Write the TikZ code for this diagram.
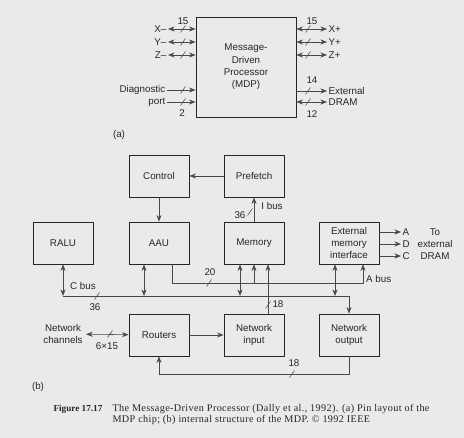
\documentclass[tikz,border=0pt]{standalone}
\usepackage{fontspec}
\setmainfont{Liberation Sans}
\newfontfamily\capfont[LetterSpace=3.5]{Liberation Serif}
\newfontfamily\capnumfont{Liberation Serif}
\usepackage{tikz}
\usetikzlibrary{arrows.meta,positioning,calc}

\definecolor{paper}{RGB}{234,234,236}
\definecolor{ink}{RGB}{38,38,40}
\definecolor{wireink}{RGB}{70,72,74}

% small slash that marks the width of a bus
\newcommand{\busmark}[1]{\draw[wire] ($#1+(-2.5,3.5)$) -- ($#1+(2.5,-3.5)$);}

\begin{document}
\begin{tikzpicture}[
    x=1pt, y=-1pt,
    every node/.style={font=\fontsize{9.8}{12.3}\selectfont, text=ink},
    chip/.style={draw=ink, line width=0.9pt, minimum width=100pt,
                 minimum height=100pt, align=center},
    block/.style={draw=ink, line width=0.9pt, minimum width=60pt,
                  minimum height=42pt, align=center},
    wire/.style={draw=wireink, line width=0.55pt},
    sig/.style={wire, -{Stealth[length=6.5pt,width=5pt]}},
    dsig/.style={wire, {Stealth[length=6.5pt,width=5pt]}-{Stealth[length=6.5pt,width=5pt]}},
    pinlabel/.style={inner sep=1.5pt},
    buslabel/.style={inner sep=1pt},
    captext/.style={anchor=base west, font=\capfont\fontsize{10.2}{11}\selectfont},
]
\useasboundingbox (0,0) rectangle (464,438);
\fill[paper] (0,0) rectangle (464,438);

% -------- (a): pin layout of the chip --------
\node[chip] (mdp) at (246,67) {Message-\\Driven\\Processor\\(MDP)};

% network ports
\foreach \nm/\lbl/\y in {xm/X--/29, ym/Y--/42, zm/Z--/55}{
  \node[pinlabel, anchor=east] (\nm) at (168,\y) {\lbl};
  \draw[dsig] (\nm) -- (mdp.west |- \nm);
  \busmark{(183,\y)}
}
\foreach \nm/\lbl/\y in {xp/X+/29, yp/Y+/42, zp/Z+/55}{
  \node[pinlabel, anchor=west] (\nm) at (327,\y) {\lbl};
  \draw[dsig] (mdp.east |- \nm) -- (\nm);
  \busmark{(308,\y)}
}
\node[buslabel] (wxm) at (183,21) {15};
\node[buslabel] (wxp) at (312,21) {15};

% diagnostic port
\node[pinlabel, anchor=east] (diag) at (167,90) {Diagnostic};
\node[pinlabel, anchor=east] (port) at (167,102) {port};
\draw[sig] (diag) -- (mdp.west |- diag);
\draw[sig] (port) -- (mdp.west |- port);
\busmark{(183,90)}
\busmark{(183,102)}
\node[buslabel] (wdiag) at (182,113) {2};

% external DRAM
\node[pinlabel, anchor=west] (ext) at (327,91) {External};
\node[pinlabel, anchor=west] (dram) at (327,102) {DRAM};
\draw[sig] (mdp.east |- ext) -- (ext);
\draw[dsig] (mdp.east |- dram) -- (dram);
\busmark{(308,91)}
\busmark{(308,102)}
\node[buslabel] (wext) at (312,80) {14};
\node[buslabel] (wdram) at (312,114) {12};

\node (cap-a) at (119,135) {(a)};

% -------- (b): internal structure --------
\node[block] (control)  at (159,176) {Control};
\node[block] (prefetch) at (254,176) {Prefetch};
\node[block] (ralu)     at (63,243)  {RALU};
\node[block] (aau)      at (159,243) {AAU};
\node[block] (memory)   at (254,243) {Memory};
\node[block] (emi)      at (349,243) {External\\memory\\interface};
\node[block] (routers)  at (159,335) {Routers};
\node[block] (netin)    at (254,335) {Network\\input};
\node[block] (netout)   at (349,335) {Network\\output};

\draw[sig] (prefetch) -- (control);
\draw[sig] (control) -- (aau);

% I bus
\draw[sig] (memory) -- (prefetch);
\busmark{(250,212)}
\node[buslabel] (ibus) at (272,206) {I bus};
\node[buslabel] (wibus) at (240,215) {36};

% to external DRAM
\foreach \nm/\lbl/\y in {pa/A/232, pd/D/244, pc/C/256}{
  \node[pinlabel, anchor=west] (\nm) at (401,\y) {\lbl};
  \draw[sig] (emi.east |- \nm) -- (\nm);
}
\node[align=center] (todram) at (435,244) {To\\external\\DRAM};

% buses
\coordinate (abus) at (0,283);
\coordinate (cbus) at (0,296);
\coordinate (fb)   at (0,374);

% C bus
\draw[sig] (ralu.south |- cbus) -| (netout.north);
\foreach \blk/\dx in {ralu/0, aau/-15, memory/-14, emi/-14}{
  \draw[dsig] ($(\blk.south)+(\dx,0)$) -- ($(\blk.south |- cbus)+(\dx,0)$);
}
\busmark{(97,296)}
\node[buslabel] (cbuslbl) at (83,286) {C bus};
\node[buslabel] (wcbus) at (95,307) {36};

% A bus
\draw[sig] ($(aau.south)+(13,0)$) |- ($(emi.south |- abus)+(14,0)$)
      -- ($(emi.south)+(14,0)$);
\draw[sig] (memory.south |- abus) -- (memory.south);
\busmark{(209,283)}
\node[buslabel] (wabus) at (210,272) {20};
\node[buslabel, anchor=west] (abuslbl) at (365,279) {A bus};

% network input to memory
\draw[sig] ($(netin.north)+(14,0)$) -- ($(memory.south)+(14,0)$);
\busmark{(268,305)}
\node[buslabel] (wnetin) at (278,304) {18};

% network channels
\node[align=center] (netch) at (63,334) {Network\\channels};
\draw[dsig] (netch) -- (routers);
\busmark{(110,334)}
\node[buslabel] (wnetch) at (107,346) {6×15};

\draw[sig] (routers) -- (netin);

% network output back to the routers
\draw[sig] (netout.south) -- (netout.south |- fb) -| (routers.south);
\busmark{(292,374)}
\node[buslabel] (wfb) at (294,363) {18};

\node (cap-b) at (38,387) {(b)};

% -------- caption --------
\node[captext, font=\capnumfont\bfseries\fontsize{9.2}{11}\selectfont]
  (figno) at (50,412) {Figure 17.17};
\node[captext] (capl1) at (109,412) {The Message-Driven Processor (Dally et al., 1992). (a) Pin layout of the};
\node[captext] (capl2) at (109,423) {MDP chip; (b) internal structure of the MDP. \textcopyright{} 1992 IEEE};

\end{tikzpicture}
\end{document}
